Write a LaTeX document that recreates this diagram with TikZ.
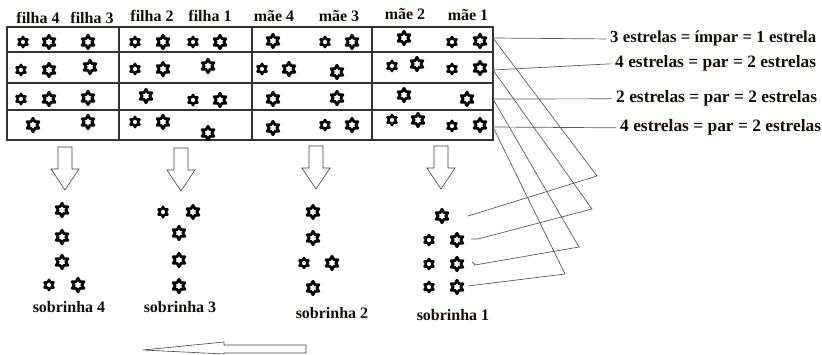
\documentclass[tikz,border=0pt]{standalone}
\usepackage{fontspec}
\setmainfont{Liberation Serif}
\usetikzlibrary{shapes.geometric}

\tikzset{
    tinystar/.style={star, star points=6, star point ratio=1.75, draw, fill=white,
        line width=2.3pt, line join=round, inner sep=0pt, minimum size=10.5pt},
    bigstar/.style={star, star points=6, star point ratio=1.75, draw, fill=white,
        line width=2.7pt, line join=round, inner sep=0pt, minimum size=13.5pt},
    lbl/.style={font=\fontsize{16}{18}\selectfont\bfseries, text=black!90!brown, inner sep=0pt},
    rule/.style={font=\fontsize{17.4}{19}\selectfont\bfseries, text=black!90!brown, inner xsep=4pt, inner ysep=0pt},
    grid/.style={draw=black!80, line width=1.1pt},
    blockarrow/.style={draw=black!75, line width=0.6pt, fill=white},
    wire/.style={draw=black!65, line width=0.7pt},
    pics/downarrow/.style={code={
        \draw[blockarrow] (-7,0) -- (7,0) -- (7,22) -- (14,22) -- (0,43) -- (-14,22) -- (-7,22) -- cycle;
    }}
}

\begin{document}
\begin{tikzpicture}[x=1pt, y=-1pt]

    \useasboundingbox (0,0) rectangle (822,355);

    % table
    \draw[grid] (7,27) rectangle (493,140);
    \foreach \y in {52,83,110}
        \draw[grid] (7,\y) -- (493,\y);
    \foreach \x in {119,252,372}
        \draw[grid] (\x,27) -- (\x,140);

    % column heads
    \foreach \x/\y/\t [count=\i] in {38/24/filha 4, 92/24/filha 3, 152/22/filha 2, 210/22/filha 1,
                                     274/22/mãe 4, 339/22/mãe 3, 405/20/mãe 2, 468/21/mãe 1}
        \node[lbl, anchor=base] (head\i) at (\x,\y) {\t};

    % stars in the table
    \foreach \x/\y/\s [count=\i] in {
        23/42/tinystar, 49/42/bigstar, 88/42/bigstar, 135/42/tinystar, 163/42/bigstar,
        193/42/tinystar, 220/42/bigstar, 273/41/bigstar, 325/42/tinystar, 352/42/bigstar,
        404/38/bigstar, 452/42/tinystar, 480/41/bigstar,
        21/70/tinystar, 49/70/bigstar, 90/67/bigstar, 135/69/tinystar, 163/69/bigstar,
        208/66/bigstar, 262/69/tinystar, 289/69/bigstar, 337/72/bigstar, 392/66/tinystar,
        417/64/bigstar, 452/69/tinystar, 480/68/bigstar,
        21/99/tinystar, 49/99/bigstar, 88/98/bigstar, 146/96/bigstar, 193/100/tinystar,
        220/100/bigstar, 273/99/bigstar, 337/98/bigstar, 404/95/bigstar, 467/99/bigstar,
        33/125/bigstar, 88/122/bigstar, 135/122/tinystar, 163/122/bigstar, 208/133/bigstar,
        273/128/bigstar, 325/125/tinystar, 352/125/bigstar, 392/120/tinystar, 418/120/bigstar,
        452/126/tinystar, 480/125/bigstar}
        \node[\s] (cell\i) at (\x,\y) {};

    % arrows down
    \pic at (65,147) {downarrow};
    \pic at (181,148) {downarrow};
    \pic at (316,146) {downarrow};
    \pic at (441,146) {downarrow};

    % stars of the nieces
    \foreach \x/\y/\s [count=\i] in {
        62/210/bigstar, 62/237/bigstar, 62/262/bigstar, 49/285/tinystar, 78/285/bigstar,
        163/212/tinystar, 193/212/bigstar, 179/233/bigstar, 179/260/bigstar, 179/286/bigstar,
        313/212/bigstar, 313/238/bigstar, 304/263/tinystar, 332/263/bigstar, 313/288/bigstar,
        442/216/bigstar, 429/240/tinystar, 457/240/bigstar, 429/264/tinystar, 457/264/bigstar,
        429/287/tinystar, 457/287/bigstar}
        \node[\s] (niece\i) at (\x,\y) {};

    \node[lbl, anchor=base] (sob4) at (69,313) {sobrinha 4};
    \node[lbl, anchor=base] (sob3) at (180,313) {sobrinha 3};
    \node[lbl, anchor=base] (sob2) at (332,319) {sobrinha 2};
    \node[lbl, anchor=base] (sob1) at (453,320) {sobrinha 1};

    % rules on the right
    \node[rule, font=\fontsize{16.8}{19}\selectfont\bfseries, anchor=base west] (r1) at (606,43) {3 estrelas = ímpar = 1 estrela};
    \node[rule, anchor=base west] (r2) at (611,68) {4 estrelas = par = 2 estrelas};
    \node[rule, anchor=base west] (r3) at (612,103) {2 estrelas = par = 2 estrelas};
    \node[rule, anchor=base west] (r4) at (616,132) {4 estrelas = par = 2 estrelas};

    \coordinate (p1) at (493,38);
    \coordinate (p2) at (493,70);
    \coordinate (p3) at (493,99);
    \coordinate (p4) at (493,127);

    \coordinate (k1) at (597,176);
    \coordinate (k2) at (592,209);
    \coordinate (k3) at (579,247);
    \coordinate (k4) at (565,274);

    \coordinate (q1) at (468,216);
    \coordinate (q2) at (478,239);
    \coordinate (q2b) at (471,239);
    \coordinate (q3) at (475,265);
    \coordinate (q3b) at (472,262);
    \coordinate (q4) at (468,286);

    \foreach \i in {1,...,4}
        \draw[wire] (p\i) -- (r\i.west);

    \draw[wire] (p1) -- (k1) -- (q1);
    \draw[wire] (p2) -- (k2) -- (q2) -- (q2b);
    \draw[wire] (p3) -- (k3) -- (q3) -- (q3b);
    \draw[wire] (p4) -- (k4) -- (q4);

    % arrow to the left
    \draw[blockarrow] (306,345) -- (224,345) -- (224,342) -- (143,350) -- (224,354)
        -- (224,353) -- (306,353) -- cycle;

\end{tikzpicture}
\end{document}
